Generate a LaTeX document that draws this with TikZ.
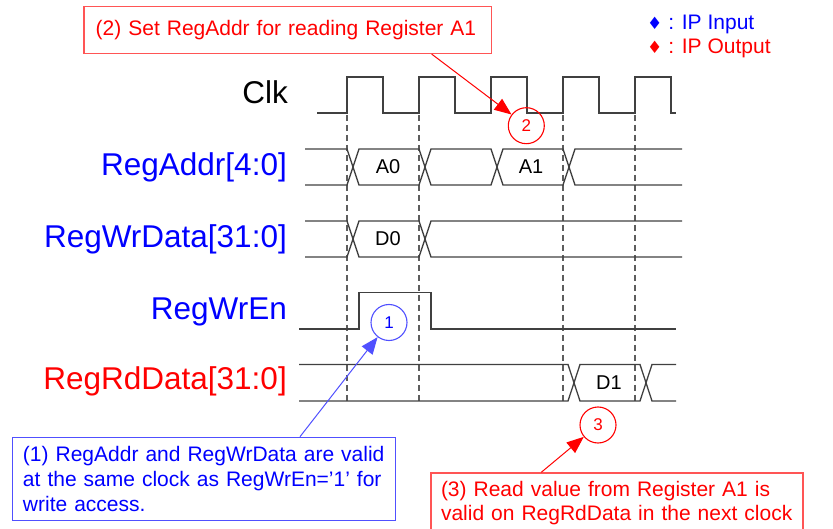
\documentclass[tikz,border=0pt]{standalone}
\usepackage{fontspec}
\setmainfont{Liberation Sans}
\newfontfamily\symfont{DejaVu Sans}
\usepackage{xcolor}
\usetikzlibrary{arrows.meta}
\definecolor{Sig_Gray}{RGB}{64,64,64}
\definecolor{IP_Blue}{RGB}{0,0,255}
\definecolor{IP_Red}{RGB}{255,0,0}
\definecolor{Note_Blue}{RGB}{80,80,255}
\definecolor{Note_Red}{RGB}{255,85,85}

\begin{document}
\begin{tikzpicture}[
    x=1pt, y=-1pt,
    siglabel/.style={anchor=base east, inner sep=0pt, font=\fontsize{31.5}{36}\selectfont},
    wave/.style={Sig_Gray, line width=1.3pt},
    guide/.style={Sig_Gray!85, line width=1.1pt, dash pattern=on 6pt off 4pt},
    busval/.style={inner sep=0pt, font=\fontsize{20}{24}\selectfont},
    legend/.style={anchor=base west, inner sep=0pt, font=\fontsize{21}{24}\selectfont},
    note/.style={rectangle, line width=1.4pt, anchor=north west, align=left, 
                 inner ysep=0pt, font=\fontsize{21}{24.7}\selectfont},
    numcircle/.style={circle, draw, line width=1.1pt, minimum size=36pt, 
                      inner sep=0pt, font=\fontsize{17}{20}\selectfont},
    arrow/.style={-{Triangle[length=17pt, width=13.5pt]}, line width=1pt}
]
\useasboundingbox (0,0) rectangle (833,529);

% Signal names
\node[siglabel] (clk) at (288,104) {Clk};
\node[siglabel, text=IP_Blue] (regaddr) at (287,176) {RegAddr[4:0]};
\node[siglabel, text=IP_Blue] (regwrdata) at (287,247.5) {RegWrData[31:0]};
\node[siglabel, text=IP_Blue] (regwren) at (287,319.5) {RegWrEn};
\node[siglabel, text=IP_Red] (regrddata) at (287,389) {RegRdData[31:0]};

% Legend
\node[legend, text=IP_Blue] (legin) at (647,30) {{\symfont\fontsize{17}{17}\selectfont\raisebox{0.5pt}{♦}} : IP Input};
\node[legend, text=IP_Red] (legout) at (647,54) {{\symfont\fontsize{17}{17}\selectfont\raisebox{0.5pt}{♦}} : IP Output};

% Clock edges
\draw[guide] (347,115) -- (347,401);
\draw[guide] (419,115) -- (419,401);
\draw[guide] (563,115) -- (563,401);
\draw[guide] (635,115) -- (635,401);

% Waveforms
\draw[wave] (317,113) -- (347,113) -- (347,77) -- (383,77) -- (383,113) -- (419,113) 
    -- (419,77) -- (455,77) -- (455,113) -- (491,113) -- (491,77) -- (527,77) -- (527,113) 
    -- (563,113) -- (563,77) -- (599,77) -- (599,113) -- (635,113) -- (635,77) -- (671,77) 
    -- (671,113) -- (676,113);
\draw[wave] (305,149) -- (347,149) -- (359,185) -- (419,185) -- (431,149) -- (491,149) 
    -- (503,185) -- (563,185) -- (575,149) -- (682,149);
\draw[wave] (305,185) -- (347,185) -- (359,149) -- (419,149) -- (431,185) -- (491,185) 
    -- (503,149) -- (563,149) -- (575,185) -- (682,185);
\draw[wave] (305,221) -- (347,221) -- (359,257) -- (419,257) -- (431,221) -- (682,221);
\draw[wave] (305,257) -- (347,257) -- (359,221) -- (419,221) -- (431,257) -- (682,257);
\draw[wave] (299,329) -- (359,329) -- (359,292.5) -- (431,292.5) -- (431,329) -- (676,329);
\draw[wave] (299,364.5) -- (568,364.5) -- (580,401) -- (640,401) -- (652,364.5) -- (676,364.5);
\draw[wave] (299,401) -- (568,401) -- (580,364.5) -- (640,364.5) -- (652,401) -- (676,401);

% Bus values
\node[busval] (a0) at (388,167) {A0};
\node[busval] (a1) at (531,167) {A1};
\node[busval] (d0) at (388,239) {D0};
\node[busval] (d1) at (609,383) {D1};

% Notes
\node[note, draw=Note_Red, text=IP_Red, text width=384pt, inner xsep=11.7pt, 
      minimum height=47pt] (note2) at (83.3,5.7) {(2) Set RegAddr for reading Register A1};
\node[note, draw=Note_Blue, text=IP_Blue, text width=362pt, inner xsep=10.6pt, 
      minimum height=83.3pt] (note1) at (11.7,436.7) {(1) RegAddr and RegWrData are valid\\at the same clock as RegWrEn='1' for\\write access.};
\node[note, draw=Note_Red, text=IP_Red, text width=352pt, inner xsep=10pt, 
      inner ysep=7.9pt] (note3) at (430.3,472.3) {(3) Read value from Register A1 is\\valid on RegRdData in the next clock};

% Numbered marks
\node[numcircle, draw=Note_Blue, text=IP_Blue] (c1) at (389,322.5) {1};
\node[numcircle, draw=IP_Red, text=IP_Red] (c2) at (526.3,125.7) {2};
\node[numcircle, draw=IP_Red, text=IP_Red] (c3) at (598,425) {3};

% Arrows
\draw[arrow, Note_Blue] ([xshift=288.3pt]note1.north west) -- (c1);
\draw[arrow, IP_Red] ([xshift=348.4pt]note2.south west) -- (c2);
\draw[arrow, IP_Red] ([xshift=111pt]note3.north west) -- (c3);

\end{tikzpicture}
\end{document}
